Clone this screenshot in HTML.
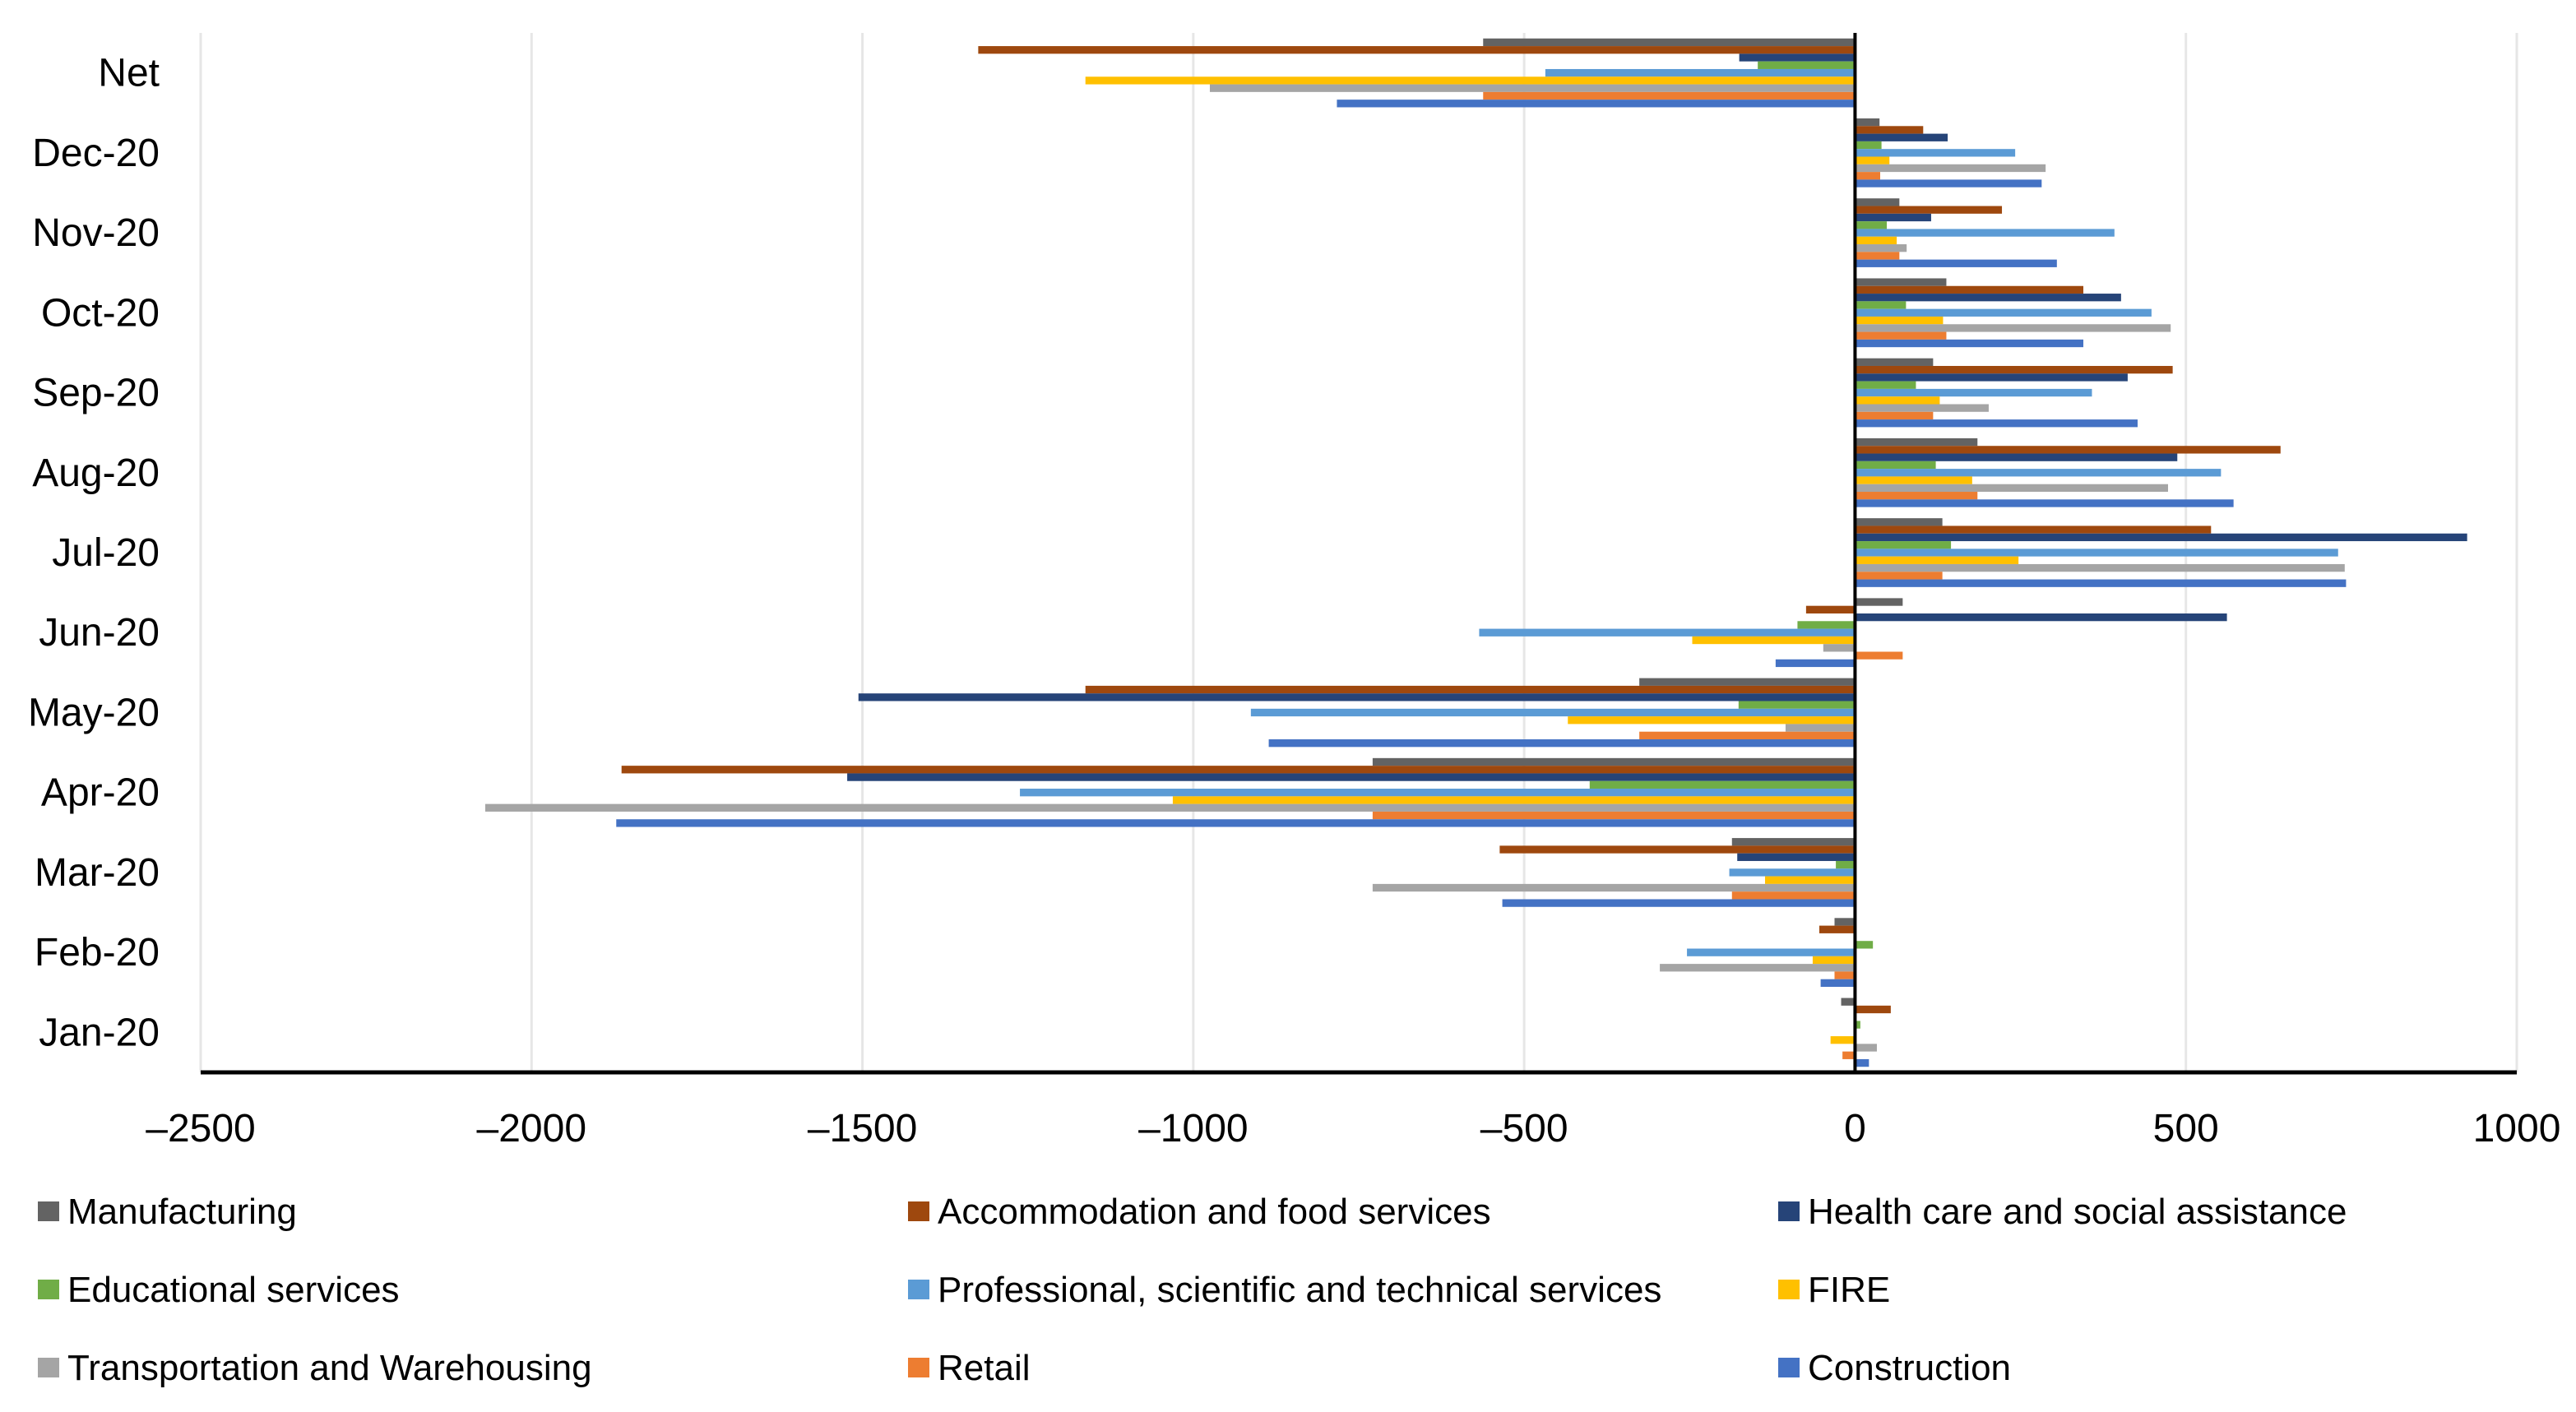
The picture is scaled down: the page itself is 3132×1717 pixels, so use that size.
<!DOCTYPE html>
<html><head><meta charset="utf-8"><style>
html,body{margin:0;padding:0;background:#fff;}
svg{display:block;font-family:"Liberation Sans",sans-serif;}
</style></head><body>
<svg id="chart" width="3132" height="1717" viewBox="0 0 3132 1717" xmlns="http://www.w3.org/2000/svg"></svg>
<script>
const categories = ["Net","Dec-20","Nov-20","Oct-20","Sep-20","Aug-20","Jul-20","Jun-20","May-20","Apr-20","Mar-20","Feb-20","Jan-20"];
const seriesNames = ["Manufacturing","Accommodation and food services","Health care and social assistance","Educational services","Professional, scientific and technical services","FIRE","Transportation and Warehousing","Retail","Construction"];
const seriesColors = ["#636363","#9E480E","#264478","#70AD47","#5B9BD5","#FFC000","#A5A5A5","#ED7D31","#4472C4"];
const manufacturing = [-562,37,67,138,118,185,132,72,-326,-729,-186,-31,-21];
const accommodation = [-1325,103,222,345,480,643,538,-74,-1163,-1864,-537,-54,54];
const healthCare = [-175,140,115,402,412,487,925,562,-1506,-1523,-178,0,0];
const educational = [-147,40,48,77,92,122,145,-87,-176,-401,-29,27,8];
const professional = [-468,242,392,448,358,553,730,-568,-913,-1262,-190,-254,0];
const fire = [-1163,52,63,133,128,177,247,-246,-434,-1031,-136,-64,-37];
const transportation = [-975,288,78,477,202,473,740,-48,-105,-2070,-729,-295,33];
const retail = [-562,38,67,138,118,185,132,72,-326,-729,-186,-31,-19];
const construction = [-783,282,305,345,427,572,742,-120,-886,-1872,-533,-52,21];
const xTicks = [-2500,-2000,-1500,-1000,-500,0,500,1000];
const series = [manufacturing,accommodation,healthCare,educational,professional,fire,transportation,retail,construction];

const NS="http://www.w3.org/2000/svg";
const svg=document.getElementById('chart');
const L=244,R=3060,T=40,B=1304,xMin=-2500,xMax=1000;
const x=v=>L+(v-xMin)/(xMax-xMin)*(R-L);
const band=(B-T)/categories.length;
const barH=9.3, groupOff=(band-barH*9)/2;
function mk(tag,attrs,parent){const e=document.createElementNS(NS,tag);for(const k in attrs)e.setAttribute(k,attrs[k]);(parent||svg).appendChild(e);return e;}

xTicks.forEach(t=>{
  if(t===0) return;
  const g=mk('line',{x1:x(t),x2:x(t),y1:T,y2:B,stroke:'#e6e6e6','stroke-width':3});
  
  
});
categories.forEach((c,ci)=>{
  series.forEach((s,si)=>{
    const v=s[ci];
    const x0=Math.min(x(0),x(v)), w=Math.abs(x(v)-x(0));
    const r=mk('rect',{x:x0,y:T+ci*band+groupOff+si*barH,width:w,height:barH,fill:seriesColors[si]});
    
    
  });
  const t=mk('text',{x:194,y:T+ci*band+band/2+16,'text-anchor':'end','font-size':48,fill:'#000'});
  t.textContent=c;
  
  
});
const za=mk('line',{x1:x(0),x2:x(0),y1:T,y2:B,stroke:'#000','stroke-width':4});


const xa=mk('line',{x1:L,x2:R,y1:B,y2:B,stroke:'#000','stroke-width':5});


xTicks.forEach(t=>{
  const tx=mk('text',{x:x(t),y:1388,'text-anchor':'middle','font-size':48,fill:'#000'});
  tx.textContent=t<0?('\u2013'+Math.abs(t)):String(t);
  
  
});
const colX=[46,1104,2162], rowY=[1473,1568,1663];
seriesNames.forEach((n,i)=>{
  const cx=colX[i%3], cy=rowY[Math.floor(i/3)];
  const g=mk('g',{});
  
  
  mk('rect',{x:cx,y:cy-12,width:26,height:24,fill:seriesColors[i]},g);
  const t=mk('text',{x:cx+36,y:cy+15,'font-size':44,fill:'#000'},g);
  t.textContent=n;
});
</script>
</body></html>
